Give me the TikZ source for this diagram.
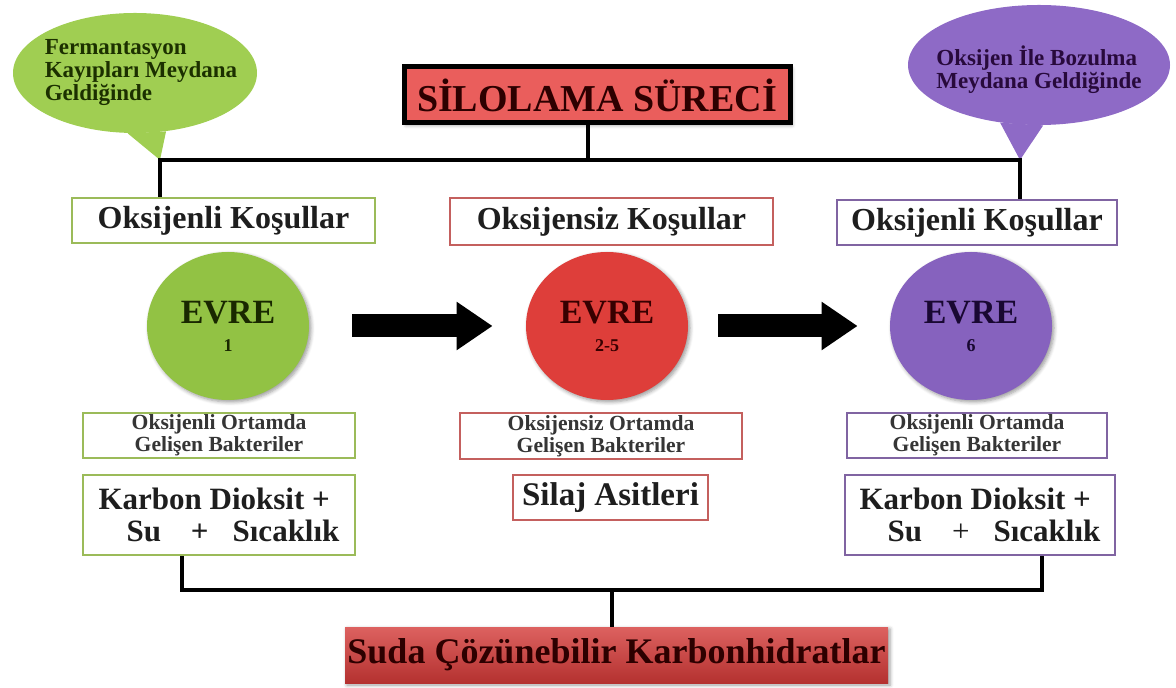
\documentclass[tikz,border=0pt]{standalone}
\usepackage{fontspec}
\setmainfont{Liberation Serif}
\usetikzlibrary{positioning,arrows.meta,shadows.blur,shapes.geometric}
\definecolor{cGreen}{RGB}{146,194,68}
\definecolor{cGreenBub}{RGB}{160,206,82}
\definecolor{cGreenEdge}{RGB}{155,187,89}
\definecolor{cRed}{RGB}{222,62,58}
\definecolor{cRedTitle}{RGB}{234,94,92}
\definecolor{cRedEdge}{RGB}{196,96,94}
\definecolor{cCarb}{RGB}{212,58,56}
\definecolor{cPurple}{RGB}{134,98,190}
\definecolor{cPurpleBub}{RGB}{142,106,198}
\definecolor{cPurpleEdge}{RGB}{128,100,162}
\definecolor{cInk}{RGB}{30,30,30}
\tikzset{
  link/.style={line width=2pt, draw=black},
  bigArrow/.style={line width=11.5pt, draw=black, -{Triangle[width=23pt,length=18pt]}},
  bubble/.style={ellipse, inner sep=0pt},
  bubbleTxt/.style={align=left, font=\fontsize{11.5}{11.5}\selectfont\bfseries},
  cond/.style={rectangle, draw, line width=1pt, fill=white, inner sep=0pt,
    text=cInk, font=\fontsize{16}{18}\selectfont\bfseries},
  evre/.style={ellipse, minimum width=81pt, minimum height=74pt, inner sep=0pt, align=center,
    blur shadow={shadow blur steps=5, shadow xshift=1pt, shadow yshift=-1pt},
    font=\fontsize{17}{15}\selectfont\bfseries},
  bact/.style={rectangle, draw, line width=1pt, fill=white, inner sep=0pt, align=center,
    text=cInk!90, font=\fontsize{10.8}{11}\selectfont\bfseries},
  prod/.style={rectangle, draw, line width=1pt, fill=white, inner sep=0pt, align=left,
    text=cInk, font=\fontsize{15.5}{16}\selectfont\bfseries},
}

\begin{document}
\begin{tikzpicture}[x=0.5pt, y=-0.5pt]
\useasboundingbox (0,0) rectangle (1176,688);

% ===== speech bubbles =====
\node[bubble, fill=cGreenBub, minimum width=122pt, minimum height=60pt] (fermBubble) at (135,73) {};
\coordinate (tipL) at (160,160);
\fill[cGreenBub] (fermBubble.-97) -- (tipL) -- (fermBubble.-62) -- cycle;
\node[bubbleTxt, text={rgb,255:red,28;green,48;blue,0}] (fermText) at (141,73)
  {Fermantasyon\\Kayıpları Meydana\\Geldiğinde};

\node[bubble, fill=cPurpleBub, minimum width=131pt, minimum height=60pt] (oxBubble) at (1039,65) {};
\coordinate (tipR) at (1020,160);
\fill[cPurpleBub] (oxBubble.-124) -- (tipR) -- (oxBubble.-86) -- cycle;
\node[bubbleTxt, text={rgb,255:red,40;green,10;blue,60}] (oxText) at (1039,70)
  {Oksijen İle Bozulma\\Meydana Geldiğinde};

% ===== title =====
\node[rectangle, draw=black, line width=2.5pt, fill=cRedTitle, minimum width=193pt, minimum height=28pt,
  inner sep=0pt, text={rgb,255:red,45;green,0;blue,0}, font=\fontsize{19}{20}\selectfont\bfseries,
  blur shadow={shadow blur steps=4, shadow xshift=1pt, shadow yshift=-1pt}]
  (title) at (597,95) {SİLOLAMA SÜRECİ};

% ===== conditions =====
\node[cond, draw=cGreenEdge, minimum width=151.5pt, minimum height=22.5pt] (condL) at (223.5,220.5) {Oksijenli Koşullar};
\node[cond, draw=cRedEdge, minimum width=161.5pt, minimum height=23.5pt] (condM) at (611.5,221.5) {Oksijensiz Koşullar};
\node[cond, draw=cPurpleEdge, minimum width=140pt, minimum height=22.5pt] (condR) at (977,222.5) {Oksijenli Koşullar};

% ===== phases =====
\node[evre, fill=cGreen, text={rgb,255:red,25;green,40;blue,0}] (evreL) at (228,326) {EVRE\\[-1pt]{\fontsize{9}{10}\selectfont 1}};
\node[evre, fill=cRed, text={rgb,255:red,55;green,0;blue,0}] (evreM) at (607,326) {EVRE\\[-1pt]{\fontsize{9}{10}\selectfont 2-5}};
\node[evre, fill=cPurple, text={rgb,255:red,25;green,8;blue,50}] (evreR) at (971,326) {EVRE\\[-1pt]{\fontsize{9}{10}\selectfont 6}};

\draw[bigArrow, shorten <=21.5pt, shorten >=16.5pt] (evreL) -- (evreM);
\draw[bigArrow, shorten <=15pt, shorten >=16pt] (evreM) -- (evreR);

% ===== bacteria =====
\node[bact, draw=cGreenEdge, minimum width=136pt, minimum height=22.5pt] (bactL) at (219,435.5) {Oksijenli Ortamda\\Gelişen Bakteriler};
\node[bact, draw=cRedEdge, minimum width=141pt, minimum height=23pt] (bactM) at (601,436) {Oksijensiz Ortamda\\Gelişen Bakteriler};
\node[bact, draw=cPurpleEdge, minimum width=130pt, minimum height=22.5pt] (bactR) at (977,435.5) {Oksijenli Ortamda\\Gelişen Bakteriler};

% ===== products =====
\node[prod, draw=cGreenEdge, minimum width=136pt, minimum height=40pt] (prodL) at (219,515)
  {Karbon Dioksit +\\\hspace*{14pt}Su\hspace{15pt}+\hspace{12pt}Sıcaklık};
\node[prod, draw=cRedEdge, minimum width=97.5pt, minimum height=22.5pt, font=\fontsize{16.5}{18}\selectfont\bfseries]
  (prodM) at (610.5,497.5) {Silaj Asitleri};
\node[prod, draw=cPurpleEdge, minimum width=135pt, minimum height=40pt] (prodR) at (980,515)
  {Karbon Dioksit +\\\hspace*{14pt}Su\hspace{15pt}{\mdseries +}\hspace{12pt}Sıcaklık};

% ===== result =====
\node[rectangle, top color=cCarb!80!white, bottom color=cCarb!85!black, minimum width=271.5pt, minimum height=28pt,
  inner sep=0pt, text={rgb,255:red,45;green,0;blue,0}, font=\fontsize{18}{20}\selectfont\bfseries,
  blur shadow={shadow blur steps=4, shadow xshift=1pt, shadow yshift=-1pt}]
  (carbs) at (616.5,655) {Suda Çözünebilir Karbonhidratlar};

% ===== connectors =====
\coordinate (titleLeg) at (588,160);
\draw[link] (title.south -| titleLeg) -- (titleLeg);
\draw[link] (condL.north -| tipL) -- (tipL) -- (tipR) -- (condR.north -| tipR);

\coordinate (legL) at (182,590);
\coordinate (legR) at (1042,590);
\coordinate (joinB) at (612,590);
\draw[link] (prodL.south -| legL) -- (legL) -- (legR) -- (prodR.south -| legR);
\draw[link] (joinB) -- (carbs.north -| joinB);

\end{tikzpicture}
\end{document}
